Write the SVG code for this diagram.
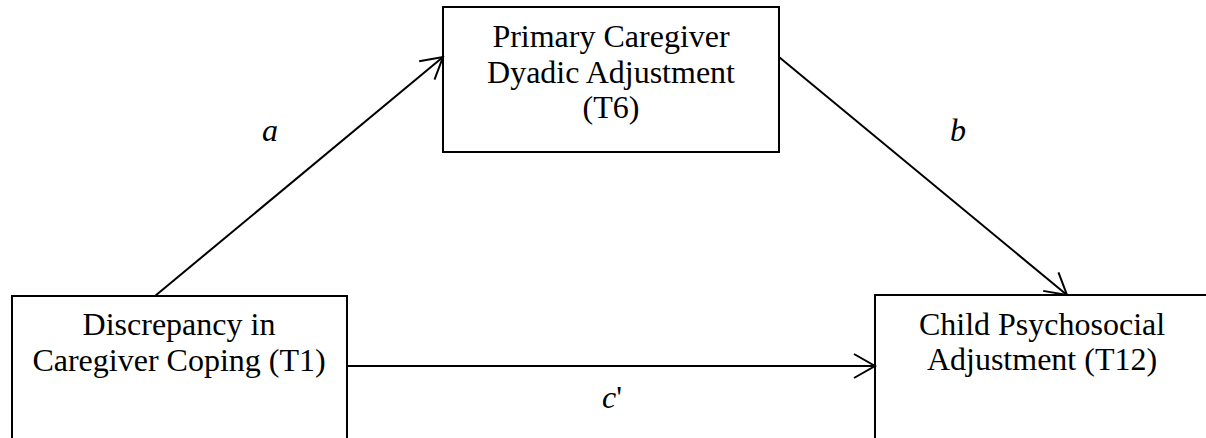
<svg xmlns="http://www.w3.org/2000/svg" width="1206" height="438" viewBox="0 0 1206 438">
  <style>
    .box { fill: #ffffff; stroke: #000000; stroke-width: 2; }
    .lbl { font-family: "Liberation Serif", "Times New Roman", serif; font-size: 32px; fill: #000000; text-anchor: middle; }
    .it { font-style: italic; }
    .edge { stroke: #000000; stroke-width: 2; fill: none; }
  </style>
  <defs>
    <marker id="arrow" markerUnits="userSpaceOnUse" viewBox="-24 -14 26 28" refX="0" refY="0" markerWidth="26" markerHeight="28" orient="auto">
      <path d="M-21,-12 L0,0 L-21,12" fill="none" stroke="#000000" stroke-width="2"/>
    </marker>
  </defs>
  <rect width="1206" height="438" fill="#ffffff"/>

  <g id="node-mediator">
    <rect class="box" x="443" y="7" width="336" height="145"/>
    <text class="lbl" x="611" y="47">Primary Caregiver</text>
    <text class="lbl" x="611" y="83">Dyadic Adjustment</text>
    <text class="lbl" x="611" y="118">(T6)</text>
  </g>

  <g id="node-predictor">
    <rect class="box" x="12" y="296" width="335" height="160"/>
    <text class="lbl" x="179" y="335">Discrepancy in</text>
    <text class="lbl" x="179" y="371">Caregiver Coping (T1)</text>
  </g>

  <g id="node-outcome">
    <rect class="box" x="875" y="295" width="340" height="160"/>
    <text class="lbl" x="1042" y="335">Child Psychosocial</text>
    <text class="lbl" x="1042" y="370">Adjustment (T12)</text>
  </g>

  <g id="connectors">
    <line class="edge" x1="155" y1="296" x2="443" y2="57" marker-end="url(#arrow)"/>
    <line class="edge" x1="779" y1="57" x2="1067" y2="295" marker-end="url(#arrow)"/>
    <line class="edge" x1="347" y1="366" x2="875" y2="366" marker-end="url(#arrow)"/>
    <text class="lbl it" x="270" y="141">a</text>
    <text class="lbl it" x="958" y="141">b</text>
    <text class="lbl" x="612" y="408"><tspan class="it">c</tspan>'</text>
  </g>
</svg>
